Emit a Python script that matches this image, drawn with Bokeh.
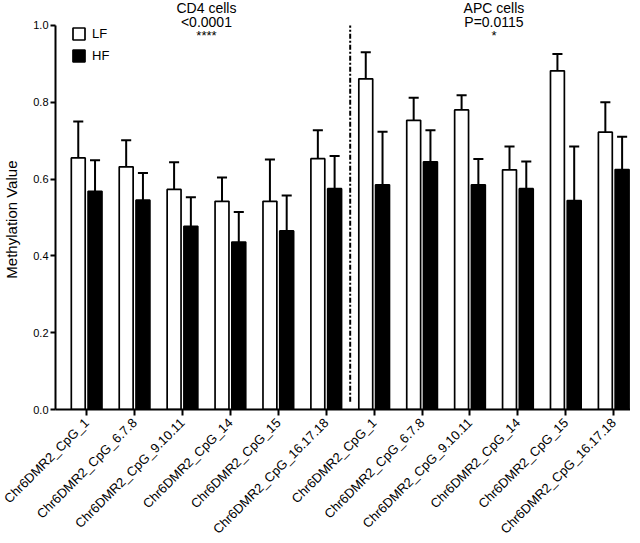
from bokeh.plotting import figure
from bokeh.models import (ColumnDataSource, FixedTicker, Legend, LegendItem, Label)
from bokeh.embed import file_html
from bokeh.resources import INLINE

# ---- data ----
sites = ["Chr6DMR2_CpG_1", "Chr6DMR2_CpG_6.7.8", "Chr6DMR2_CpG_9.10.11",
         "Chr6DMR2_CpG_14", "Chr6DMR2_CpG_15", "Chr6DMR2_CpG_16.17.18"]
cell_groups = ["CD4 cells", "APC cells"]
group_stats = ["<0.0001", "P=0.0115"]
group_stars = ["****", "*"]
series = ["LF", "HF"]
y_title = "Methylation Value"

lf_cd4 = [0.655, 0.632, 0.573, 0.542, 0.542, 0.653]
lf_cd4_sd = [0.095, 0.069, 0.071, 0.062, 0.109, 0.074]
hf_cd4 = [0.568, 0.545, 0.477, 0.436, 0.465, 0.575]
hf_cd4_sd = [0.081, 0.071, 0.076, 0.078, 0.092, 0.085]

lf_apc = [0.861, 0.753, 0.780, 0.624, 0.882, 0.722]
lf_apc_sd = [0.069, 0.059, 0.038, 0.061, 0.044, 0.078]
hf_apc = [0.585, 0.645, 0.585, 0.575, 0.544, 0.625]
hf_apc_sd = [0.138, 0.082, 0.067, 0.071, 0.141, 0.085]

y_ticks = [0.0, 0.2, 0.4, 0.6, 0.8, 1.0]

# ---- derived ----
labels = sites + sites
pos = list(range(len(labels)))
lf = lf_cd4 + lf_apc
lf_sd = lf_cd4_sd + lf_apc_sd
hf = hf_cd4 + hf_apc
hf_sd = hf_cd4_sd + hf_apc_sd

off = 0.175
bw = 0.29
cap = 0.105

FONT = "Liberation Sans"

def make_src(vals, sds, shift):
    xs = [p_ + shift for p_ in pos]
    tops = [v + s for v, s in zip(vals, sds)]
    return ColumnDataSource(dict(
        x=xs, top=vals, etop=tops,
        cx0=[x - cap for x in xs], cx1=[x + cap for x in xs]))

src_lf = make_src(lf, lf_sd, -off)
src_hf = make_src(hf, hf_sd, off)

p = figure(frame_width=575, frame_height=409, output_backend="svg", toolbar_location=None,
           x_range=(-0.65, 11.35), y_range=(0, 1.065),
           min_border_left=49, min_border_right=0, min_border_top=0,
           min_border_bottom=126)
p.outline_line_color = None
p.xgrid.visible = False
p.ygrid.visible = False
p.background_fill_color = "white"
p.border_fill_color = "white"

# error bars (upper only)
for src in (src_lf, src_hf):
    p.segment(x0="x", y0="top", x1="x", y1="etop", source=src,
              line_color="black", line_width=2)
    p.segment(x0="cx0", y0="etop", x1="cx1", y1="etop", source=src,
              line_color="black", line_width=2)

r_lf = p.vbar(x="x", top="top", bottom=0, width=bw, source=src_lf,
              fill_color="white", line_color="black", line_width=1.7)
r_hf = p.vbar(x="x", top="top", bottom=0, width=bw, source=src_hf,
              fill_color="black", line_color="black", line_width=1.7)

# separator between the two cell groups
sep_x = (len(sites) - 1 + len(sites)) / 2.0
p.segment(x0=[sep_x], y0=[0.02], x1=[sep_x], y1=[1.0],
          line_color="black", line_width=2, line_dash="5 2 2 2")

# axes
p.xaxis.ticker = FixedTicker(ticks=pos)
p.xaxis.major_label_overrides = {i: l for i, l in zip(pos, labels)}
p.xaxis.major_label_orientation = 0.785398
p.xaxis.major_label_text_font = FONT
p.xaxis.major_label_text_font_size = "13px"
p.xaxis.major_label_text_color = "black"
p.xaxis.major_label_standoff = 5
p.xaxis.major_tick_line_width = 2
p.xaxis.major_tick_out = 6
p.xaxis.major_tick_in = 0
p.xaxis.minor_tick_line_color = None
p.xaxis.axis_line_width = 2

p.yaxis.bounds = (0, 1.0)
p.yaxis.ticker = FixedTicker(ticks=y_ticks)
p.yaxis.major_label_overrides = {t: "%.1f" % t for t in y_ticks}
p.yaxis.major_label_text_font = FONT
p.yaxis.major_label_text_font_size = "11px"
p.yaxis.major_label_text_color = "black"
p.yaxis.major_label_standoff = 2
p.yaxis.major_tick_line_width = 2
p.yaxis.major_tick_out = 5
p.yaxis.major_tick_in = 0
p.yaxis.minor_tick_line_color = None
p.yaxis.axis_line_width = 2
# trailing no-break spaces keep the label centred on the 0-1 axis span
p.yaxis.axis_label = y_title + "\u00a0" * 7
p.yaxis.axis_label_text_font = FONT
p.yaxis.axis_label_text_font_size = "15px"
p.yaxis.axis_label_text_font_style = "normal"
p.yaxis.axis_label_text_color = "black"
p.yaxis.axis_label_standoff = 10

# group titles
centers = [(len(sites) - 1) / 2.0, len(sites) + (len(sites) - 1) / 2.0]
for cx, name, stat, star in zip(centers, cell_groups, group_stats, group_stars):
    p.add_layout(Label(x=cx, y=1.0234, text=name, text_align="center",
                       text_font=FONT, text_font_size="14px", text_color="black"))
    p.add_layout(Label(x=cx, y=0.987, text=stat, text_align="center",
                       text_font=FONT, text_font_size="14px", text_color="black"))
    p.add_layout(Label(x=cx, y=0.954, text=star, text_align="center",
                       text_font=FONT, text_font_size="13px", text_color="black"))

legend = Legend(items=[LegendItem(label=series[0], renderers=[r_lf]),
                       LegendItem(label=series[1], renderers=[r_hf])],
                location=(16, 346), glyph_width=15, glyph_height=15,
                label_height=15, spacing=7, padding=0, margin=0,
                label_standoff=6, label_text_font=FONT,
                label_text_font_size="13px", label_text_color="black",
                border_line_alpha=0, background_fill_alpha=0)
p.add_layout(legend, "center")

open("out.html", "w").write(file_html(p, INLINE))
